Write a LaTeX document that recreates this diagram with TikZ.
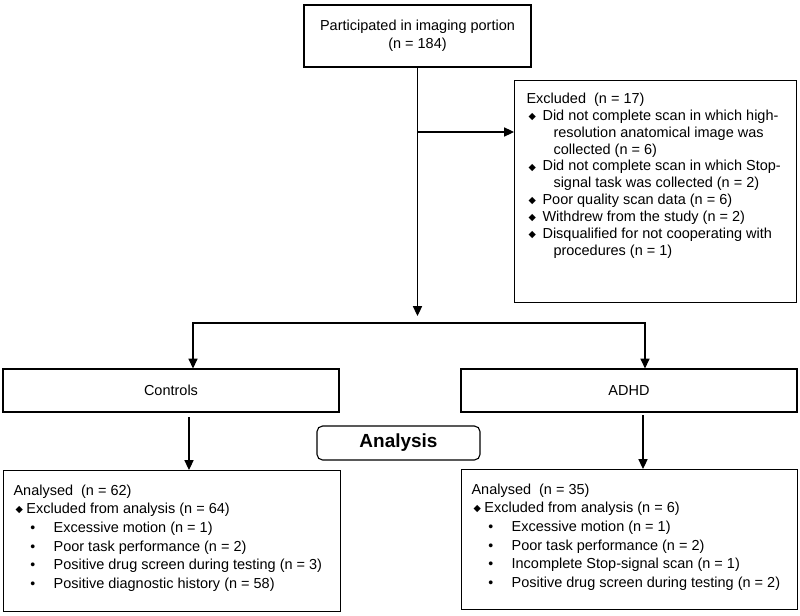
\documentclass[tikz,border=0pt]{standalone}
\usepackage{fontspec}
\setmainfont{Liberation Sans}
\newfontfamily\symfont{DejaVu Sans}
\usepackage{tikz}
\usetikzlibrary{positioning}
\usetikzlibrary{arrows.meta}

\newcommand{\dmd}{\raisebox{0.6pt}{\symfont\fontsize{6.8pt}{7pt}\selectfont ◆}}
\newcommand{\exitem}[1]{\par\noindent\hangindent=19.2pt\hangafter=1\makebox[11.4pt][l]{\hspace{1.5pt}\dmd}#1}
\newcommand{\anitem}[1]{\par\noindent\hspace*{1.5pt}\makebox[7.7pt][l]{\dmd}#1}
\newcommand{\bulitem}[1]{\par\noindent\hspace*{12pt}\makebox[16.5pt][l]{\fontsize{10pt}{10pt}\selectfont•}#1}

\tikzset{
  box/.style={draw, line width=0.8pt, inner sep=0pt, font=\fontsize{10.3pt}{13pt}\selectfont},
  listbox/.style={draw, line width=0.8pt, anchor=north west, inner xsep=7.1pt, inner ysep=10pt},
  arr/.style={line width=0.8pt, -{Triangle[length=7pt,width=6.5pt]}},
  arrs/.style={line width=0.8pt, {Triangle[length=7pt,width=6.5pt]}-{Triangle[length=7pt,width=6.5pt]}}
}

\begin{document}
\begin{tikzpicture}[x=0.025cm,y=-0.025cm]
    \useasboundingbox (0,0) rectangle (800,616);

    % top
    \node[box, align=center, minimum width=5.675cm, minimum height=1.55cm] (part) at (417.5,36)
        {Participated in imaging portion\\(n = 184)};

    % excluded
    \node[listbox, inner xsep=8.5pt, inner ysep=8.8pt] (excl) at (514,80) {%
      \begin{minipage}[t][140.3pt][t]{183.6pt}\fontsize{10.3pt}{12pt}\selectfont
      \noindent Excluded\ \ (n = 17)
      \exitem{Did not complete scan in which high-\\resolution anatomical image was\\collected (n = 6)}
      \exitem{Did not complete scan in which Stop-\\signal task was collected (n = 2)}
      \exitem{Poor quality scan data (n = 6)}
      \exitem{Withdrew from the study (n = 2)}
      \exitem{Disqualified for not cooperating with\\procedures (n = 1)}
      \end{minipage}};

    % groups
    \node[box, minimum width=8.4cm, minimum height=1.075cm] (ctrl) at (171,390.5) {Controls};
    \node[box, minimum width=8.4cm, minimum height=1.075cm] (adhd) at (629,390.5) {ADHD};

    \node[box, rounded corners=4pt, minimum width=4.075cm, minimum height=0.85cm,
          font=\fontsize{13.5pt}{15pt}\selectfont\bfseries] (ana) at (398.5,443) {Analysis};

    % analysed
    \node[listbox] (actrl) at (3,470) {%
      \begin{minipage}[t][80.3pt][t]{225.5pt}\fontsize{10.3pt}{13.3pt}\selectfont
      \noindent Analysed\ \ (n = 62)
      \anitem{Excluded from analysis (n = 64)}
      \bulitem{Excessive motion (n = 1)}
      \bulitem{Poor task performance (n = 2)}
      \bulitem{Positive drug screen during testing (n = 3)}
      \bulitem{Positive diagnostic history (n = 58)}
      \end{minipage}};
    \node[listbox] (aadhd) at (461,469) {%
      \begin{minipage}[t][79.6pt][t]{224.8pt}\fontsize{10.3pt}{13.3pt}\selectfont
      \noindent Analysed\ \ (n = 35)
      \anitem{Excluded from analysis (n = 6)}
      \bulitem{Excessive motion (n = 1)}
      \bulitem{Poor task performance (n = 2)}
      \bulitem{Incomplete Stop-signal scan (n = 1)}
      \bulitem{Positive drug screen during testing (n = 2)}
      \end{minipage}};

    % connectors
    \coordinate (jn) at (417.5,316);
    \coordinate (br) at (417.5,132);
    \coordinate (sl) at (193,323);
    \coordinate (sr) at (645,323);
    \coordinate (cd) at (189,417);
    \coordinate (ad) at (643,415);

    \draw[arr] (part.south) -- (jn);
    \draw[arr] (br) -- (br -| excl.west);
    \draw[arrs] (sl |- ctrl.north) -- (sl) -- (sr) -- (sr |- adhd.north);
    \draw[arr] (cd) -- (cd |- actrl.north);
    \draw[arr] (ad) -- (ad |- aadhd.north);
\end{tikzpicture}
\end{document}
